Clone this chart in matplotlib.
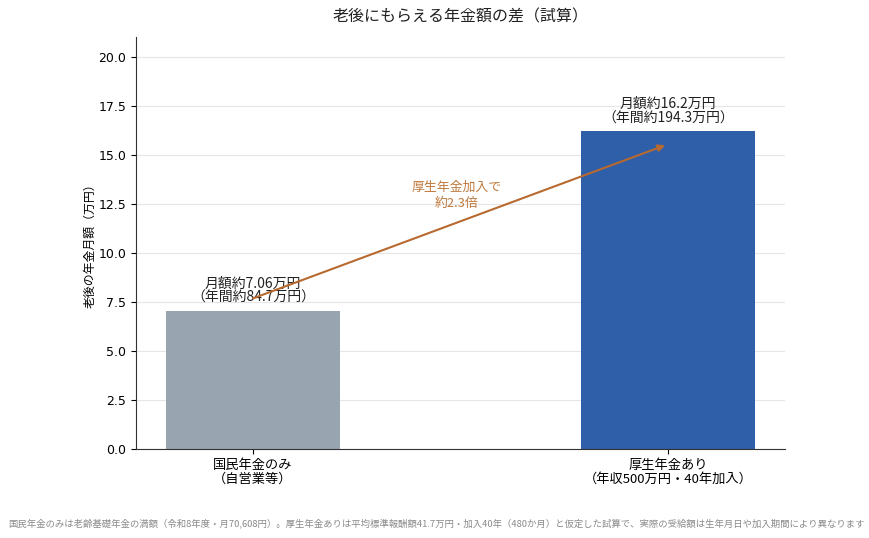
import matplotlib
matplotlib.use("Agg")
import matplotlib.pyplot as plt

plt.rcParams['font.family'] = ['Noto Sans CJK JP', 'DejaVu Sans']

# data
categories = ["国民年金のみ\n（自営業等）", "厚生年金あり\n（年収500万円・40年加入）"]
monthly = [7.06, 16.2]
annual = [84.7, 194.3]
bar_colors = ["#98a4b0", "#2e5fa8"]
ratio = 2.3
yticks = [0.0, 2.5, 5.0, 7.5, 10.0, 12.5, 15.0, 17.5, 20.0]

fig = plt.figure(figsize=(8.7, 5.38), dpi=100)
ax = fig.add_axes([0.1563, 0.1654, 0.7460, 0.7658])

x = list(range(len(categories)))
ax.bar(x, monthly, width=0.42, color=bar_colors, zorder=2)

for xi, m, a in zip(x, monthly, annual):
    ax.text(xi, m + 0.28, f"月額約{m:g}万円\n（年間約{a:g}万円）",
            ha="center", va="bottom", fontsize=10, color="#222222", linespacing=1.05)

# arrow between bars
ax.annotate("", xy=(0.993, monthly[1] - 0.72), xytext=(0.0, monthly[0] + 0.62),
            arrowprops=dict(arrowstyle="-|>", color="#b8692f", lw=1.5,
                            mutation_scale=10, shrinkA=0, shrinkB=0), zorder=3)
ax.text(0.49, 12.93, f"厚生年金加入で\n約{ratio}倍", ha="center", va="center",
        fontsize=9.3, color="#c07a3e", linespacing=1.25)

ax.set_xlim(-0.282, 1.282)
ax.set_ylim(0, 21)
ax.set_yticks(yticks)
ax.set_yticklabels([f"{t:.1f}" for t in yticks], family="DejaVu Sans", fontsize=9)
ax.set_xticks(x)
ax.set_xticklabels(categories, fontsize=9.5, linespacing=1.1)
ax.set_ylabel("老後の年金月額（万円）", fontsize=8.6, labelpad=1.5)
ax.grid(axis="y", color="#e6e6e6", lw=0.8, zorder=0)
ax.spines["top"].set_visible(False)
ax.spines["right"].set_visible(False)
ax.spines["left"].set_color("#333333")
ax.spines["bottom"].set_color("#333333")

# title centred over the axes
fig.text(0.1563 + 0.7460 / 2, 0.968, "老後にもらえる年金額の差（試算）", ha="center", va="center",
         fontsize=11.5, color="#222222")
fig.text(0.009, 0.028,
         "国民年金のみは老齢基礎年金の満額（令和8年度・月70,608円）。厚生年金ありは平均標準報酬額41.7万円・加入40年（480か月）と仮定した試算で、実際の受給額は生年月日や加入期間により異なります",
         ha="left", va="center", fontsize=6.75, color="#8a8a8a")

fig.savefig("out.png", dpi=100)
